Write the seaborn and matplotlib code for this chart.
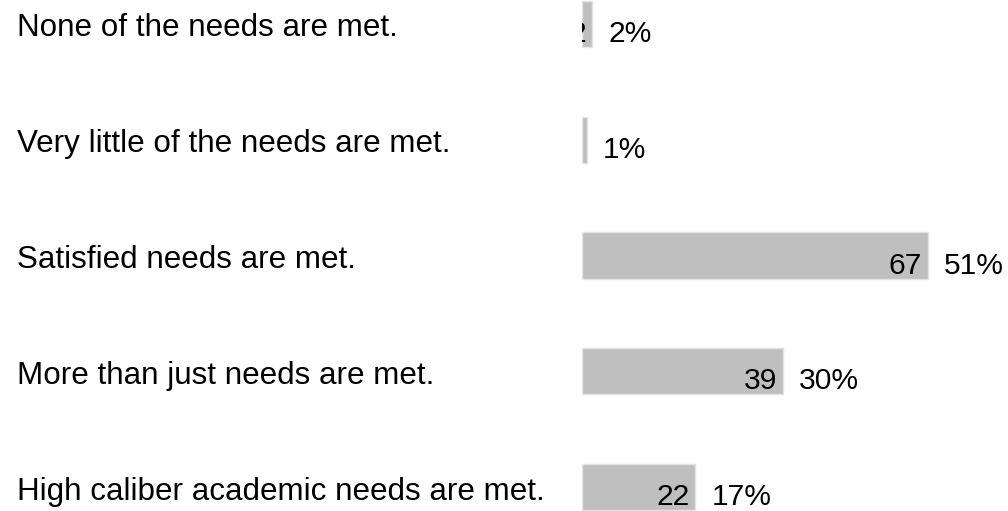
import matplotlib
matplotlib.use("Agg")
import matplotlib.pyplot as plt
import pandas as pd
import seaborn as sns

categories = [
    "None of the needs are met.",
    "Very little of the needs are met.",
    "Satisfied needs are met.",
    "More than just needs are met.",
    "High caliber academic needs are met.",
]
counts = [2, 1, 67, 39, 22]

total = sum(counts)
percents = [f"{round(c / total * 100)}%" for c in counts]

sns.set_theme(style="white")
plt.rcParams["font.family"] = ["Liberation Sans", "DejaVu Sans"]
LABEL_SIZE = 22.6
NUM_SIZE = 21.6

fig = plt.figure(figsize=(10.08, 5.11), dpi=100)
ax = fig.add_axes([582 / 1008, 0, 426 / 1008, 1])

df = pd.DataFrame({"label": categories, "count": counts})
sns.barplot(data=df, x="count", y="label", color="#bfbfbf", saturation=1,
            width=0.4, edgecolor="#e3e3e3", linewidth=1, ax=ax)

ax.set_xlim(0, 82.6)
ax.set_ylim(len(categories) - 1 + 0.207, -0.207)
ax.set_axis_off()

for i, (cat, c, p) in enumerate(zip(categories, counts, percents)):
    # category text on the left
    ax.annotate(cat, xy=(17, i), xycoords=("figure pixels", "data"),
                xytext=(0, -12.5), textcoords="offset pixels",
                ha="left", va="baseline", fontsize=LABEL_SIZE, color="black",
                annotation_clip=False)
    # count inside bar end (clipped at the axis like the original)
    ax.annotate(str(c), xy=(c, i), xytext=(-6, -18), textcoords="offset pixels",
                ha="right", va="baseline", fontsize=NUM_SIZE, color="black",
                clip_on=True)
    # percent after bar
    ax.annotate(p, xy=(c, i), xytext=(16, -18), textcoords="offset pixels",
                ha="left", va="baseline", fontsize=NUM_SIZE, color="black",
                annotation_clip=False)

fig.savefig("out.png", dpi=100)
